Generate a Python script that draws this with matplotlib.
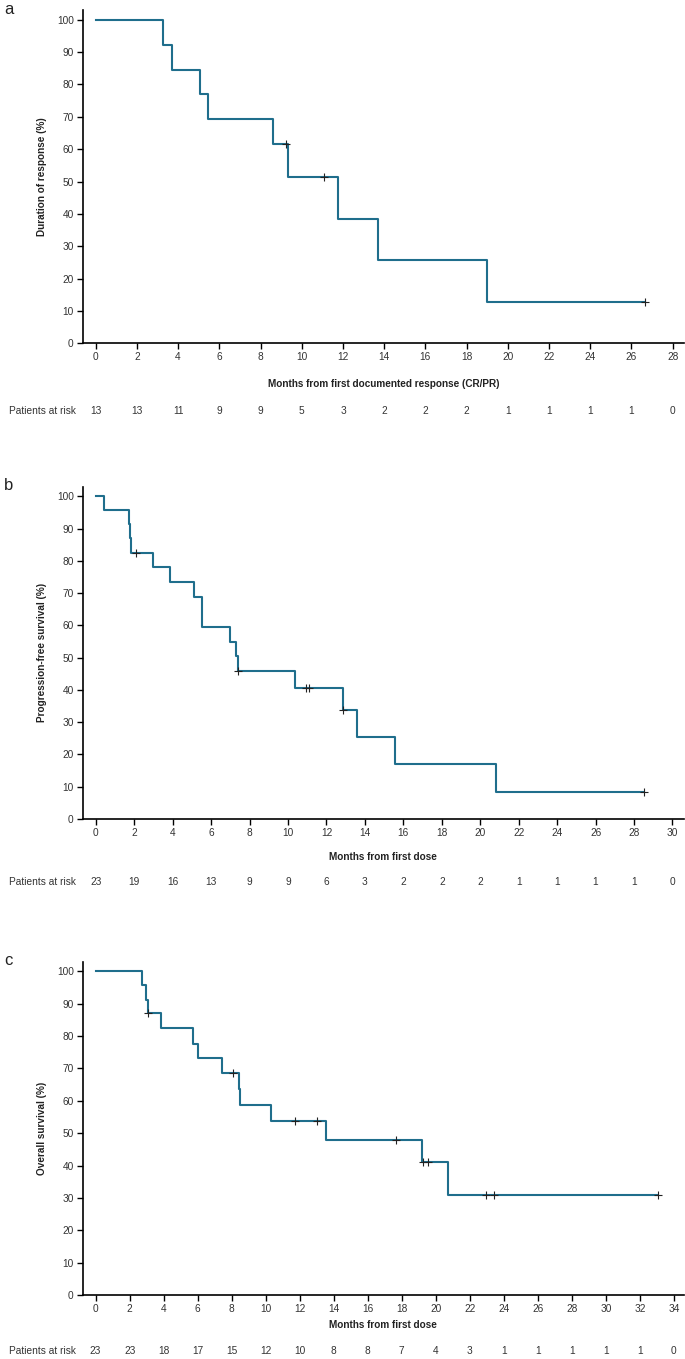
import matplotlib
matplotlib.use("Agg")
import matplotlib.pyplot as plt
import numpy as np

plt.rcParams['font.family'] = ['Liberation Sans', 'DejaVu Sans']

# a: duration of response
a_times = [0, 3.26, 3.69, 5.07, 5.47, 8.6, 9.33, 11.75, 13.71, 18.97, 26.65]
a_surv = [100, 92.3, 84.6, 76.9, 69.2, 61.5, 51.3, 38.5, 25.6, 12.8, 12.8]
a_cens_t = [9.24, 11.07, 26.65]
a_cens_s = [61.5, 51.3, 12.8]
a_risk = [13, 13, 11, 9, 9, 5, 3, 2, 2, 2, 1, 1, 1, 1, 0]

# b: progression-free survival
b_times = [0, 0.43, 1.75, 1.80, 1.84, 2.99, 3.87, 5.10, 5.54, 7.00, 7.31, 7.40,
           10.34, 12.85, 13.59, 15.55, 20.82, 28.52]
b_surv = [100, 95.7, 91.3, 87.0, 82.6, 78.0, 73.4, 68.8, 59.6, 55.0, 50.4, 45.8,
          40.7, 33.9, 25.4, 17.0, 8.5, 8.5]
b_cens_t = [2.08, 7.40, 10.94, 11.10, 12.87, 28.52]
b_cens_s = [82.6, 45.8, 40.7, 40.7, 33.9, 8.5]
b_risk = [23, 19, 16, 13, 9, 9, 6, 3, 2, 2, 2, 1, 1, 1, 1, 0]

# c: overall survival
c_times = [0, 2.74, 2.96, 3.06, 3.86, 5.74, 6.04, 7.45, 8.43, 8.49, 10.29, 13.52,
           19.19, 20.75, 33.08]
c_surv = [100, 95.7, 91.3, 87.0, 82.4, 77.6, 73.2, 68.5, 63.6, 58.7, 53.9, 47.9,
          41.0, 30.8, 30.8]
c_cens_t = [3.10, 8.09, 11.7, 13.0, 17.68, 19.25, 19.52, 22.93, 23.42, 33.08]
c_cens_s = [87.0, 68.5, 53.9, 53.9, 47.9, 41.0, 41.0, 30.8, 30.8, 30.8]
c_risk = [23, 23, 18, 17, 15, 12, 10, 8, 8, 7, 4, 3, 1, 1, 1, 1, 1, 0]

W, H = 685, 1359
fig = plt.figure(figsize=(W / 100, H / 100), dpi=100)

line_col = '#1f6e8c'
txt_col = '#333333'

panels = [
    # label, times, surv, cens t, cens s, risk, xmax tick, xlim, ylabel, xlabel,
    # top px, bottom px, xlabel offset px, risk row offset px
    ('a', a_times, a_surv, a_cens_t, a_cens_s, a_risk, 28, (-0.63, 28.55),
     'Duration of response (%)', 'Months from first documented response (CR/PR)',
     10, 343.3, 36, 68),
    ('b', b_times, b_surv, b_cens_t, b_cens_s, b_risk, 30, (-0.68, 30.6),
     'Progression-free survival (%)', 'Months from first dose', 486.7, 819, 33, 63),
    ('c', c_times, c_surv, c_cens_t, c_cens_s, c_risk, 34, (-0.76, 34.6),
     'Overall survival (%)', 'Months from first dose', 961.7, 1295, 25, 56),
]

left_px, right_px = 82.7, 684
for lab, t, s, ct, cs, risk, xmax, xl, ylab, xlab, top, bot, xoff, roff in panels:
    ax = fig.add_axes([left_px / W, 1 - bot / H, (right_px - left_px) / W, (bot - top) / H])
    ax.step(t, s, where='post', color=line_col, lw=1.5, zorder=2)
    ax.plot(ct, cs, '+', color='#222222', ms=6, mew=0.8, zorder=3)
    ax.set_xlim(*xl)
    ax.set_ylim(0, 103)
    ax.set_xticks(np.arange(0, xmax + 1, 2))
    ax.set_yticks(np.arange(0, 101, 10))
    for sp in ['top', 'right']:
        ax.spines[sp].set_visible(False)
    for sp in ['left', 'bottom']:
        ax.spines[sp].set_linewidth(1.2)
    ax.tick_params(direction='out', length=4, width=1, labelsize=7.3,
                   labelcolor=txt_col, pad=2.5)
    ax.set_ylabel(ylab, fontsize=7.2, fontweight='bold', color='#222222')
    ax.yaxis.set_label_coords((46.7 - left_px) / (right_px - left_px), 0.5)
    ax.set_xlabel(xlab, fontsize=7.2, fontweight='bold', color='#222222')
    hpx = bot - top
    ax.xaxis.set_label_coords(0.5, -(xoff / hpx))
    # patients at risk row
    ry = -(roff / hpx)
    ax.text(-(left_px - 9) / (right_px - left_px), ry, 'Patients at risk',
            transform=ax.transAxes, fontsize=7.3, color=txt_col, va='center', ha='left')
    for i, n in enumerate(risk):
        ax.text(2 * i, ry, str(n), transform=ax.get_xaxis_transform(),
                fontsize=7.3, color=txt_col, va='center', ha='center')
    fig.text(4 / W, 1 - (top - 1) / H, lab, fontsize=12, color='#222222', va='center', ha='left')

fig.savefig('out.png', dpi=100)
